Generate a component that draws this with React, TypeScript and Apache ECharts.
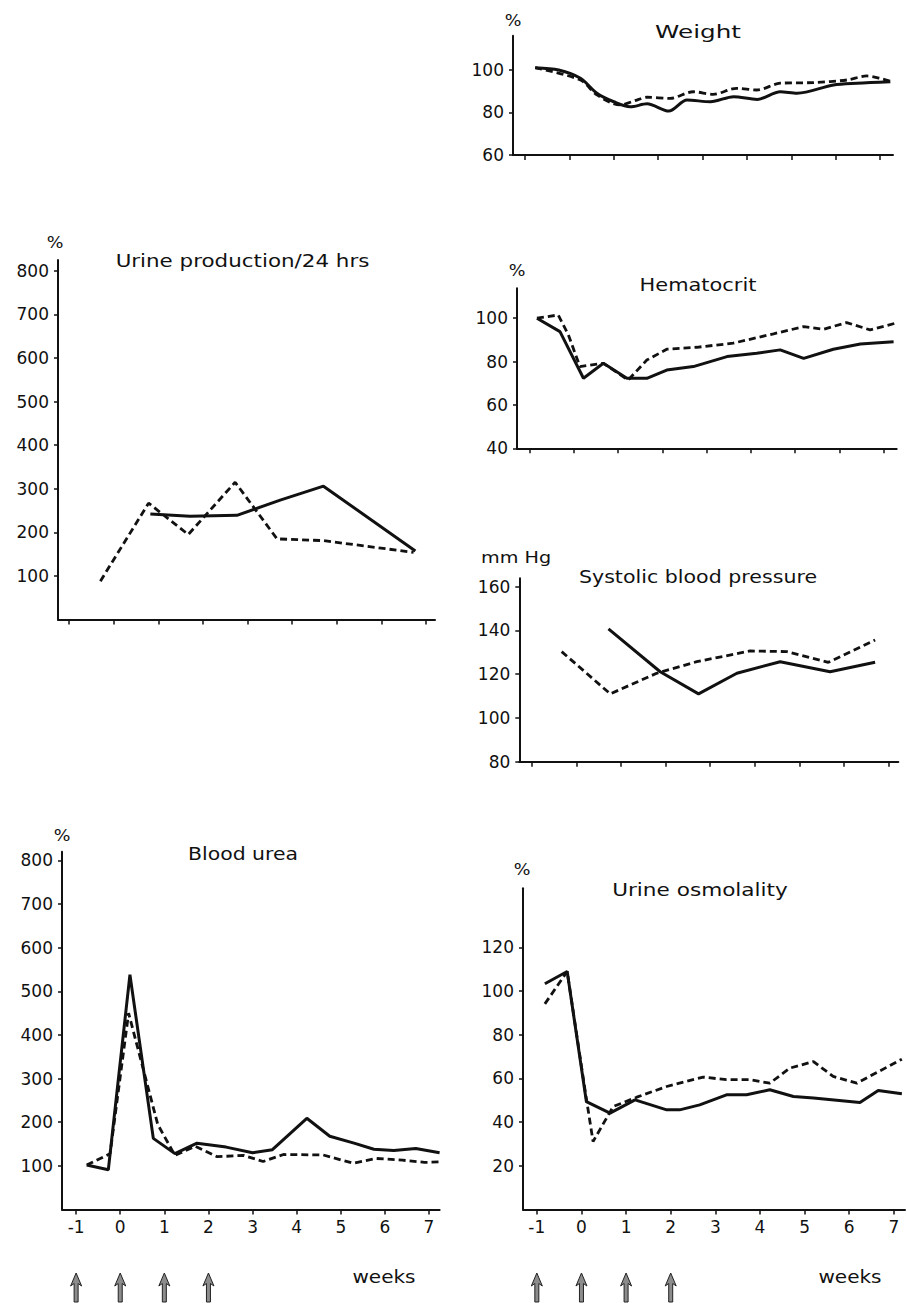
import React, { useEffect, useRef } from "react";
import * as echarts from "echarts";

// ---------- data (x = weeks, y = value) ----------
const weekTicks = [-1, 0, 1, 2, 3, 4, 5, 6, 7];
const arrowWeeks = [-1, 0, 1, 2];

const weightTicks = [60, 80, 100];
const hematocritTicks = [40, 60, 80, 100];
const systolicTicks = [80, 100, 120, 140, 160];
const osmolalityTicks = [20, 40, 60, 80, 100, 120];
const urineTicks = [100, 200, 300, 400, 500, 600, 700, 800];
const ureaTicks = [100, 200, 300, 400, 500, 600, 700, 800];

const weightSolid = [[-0.77, 101], [-0.24, 99.9], [0.25, 96], [0.62, 89], [1.0, 85], [1.37, 82.6], [1.75, 84], [2.24, 80.6], [2.65, 85.8], [3.18, 85], [3.7, 87.4], [4.23, 86.1], [4.75, 89.7], [5.13, 89], [5.95, 92.9], [6.48, 93.7], [7.23, 94.4]];
const weightDashed = [[-0.77, 101], [0.25, 95.2], [0.62, 88.2], [1.14, 83.5], [1.52, 85.8], [1.74, 87.1], [2.27, 86.6], [2.79, 89.7], [3.24, 88.5], [3.77, 91.3], [4.22, 90.5], [4.75, 93.7], [5.5, 94], [6.25, 95.2], [6.7, 97.1], [7.0, 96], [7.22, 94.7]];

const hematocritSolid = [[-0.83, 100], [-0.31, 93.8], [0.22, 72.3], [0.67, 79.2], [1.2, 72.3], [1.65, 72.3], [2.1, 76.1], [2.7, 77.7], [3.46, 82.3], [4.13, 83.8], [4.66, 85.4], [5.19, 81.5], [5.86, 85.7], [6.47, 88.1], [7.22, 89.2]];
const hematocritDashed = [[-0.83, 100], [-0.35, 101.5], [-0.12, 92.3], [0.14, 77.7], [0.67, 79.2], [1.23, 71.5], [1.65, 80.7], [2.1, 85.7], [2.78, 86.6], [3.6, 88.5], [4.51, 92.8], [5.19, 96.1], [5.64, 94.9], [6.16, 98], [6.69, 94.6], [7.26, 97.7]];

const systolicSolid = [[0.72, 140.7], [1.88, 121.1], [2.74, 111], [3.6, 120.4], [4.57, 125.7], [5.69, 121.1], [6.7, 125.4]];
const systolicDashed = [[-0.33, 130.3], [0.76, 111], [1.8, 120.4], [2.7, 125.7], [3.9, 130.6], [4.72, 130.3], [5.65, 125.4], [6.7, 135.6]];

const osmolalitySolid = [[-0.82, 103.3], [-0.32, 108.9], [0.11, 49.4], [0.64, 44.1], [1.2, 50.2], [1.91, 45.6], [2.2, 45.6], [2.65, 47.9], [3.25, 52.5], [3.7, 52.5], [4.22, 54.8], [4.75, 51.7], [5.2, 51], [6.24, 49], [6.65, 54.5], [7.18, 53]];
const osmolalityDashed = [[-0.82, 94.1], [-0.32, 108.9], [0.1, 52], [0.26, 31.1], [0.71, 47.1], [1.24, 51.4], [1.91, 56.3], [2.73, 60.6], [3.25, 59.4], [3.78, 59.4], [4.22, 57.8], [4.67, 64.7], [5.2, 67.7], [5.64, 60.9], [6.17, 57.8], [7.18, 68.8]];

const urineSolid = [[0.82, 242], [1.71, 237], [2.76, 239], [3.73, 274], [4.7, 306], [6.76, 157]];
const urineDashed = [[-0.3, 88], [0.78, 267], [1.67, 195], [2.72, 315], [3.66, 185], [4.7, 181], [6.72, 154]];

const ureaSolid = [[-0.76, 102], [-0.27, 91], [0.22, 538], [0.75, 163], [1.24, 128], [1.74, 152], [2.4, 143], [3.0, 130], [3.45, 137], [4.23, 209], [4.75, 168], [5.3, 152], [5.75, 138], [6.2, 135], [6.7, 140], [7.24, 130]];
const ureaDashed = [[-0.76, 102], [-0.23, 128], [0.19, 450], [0.85, 195], [1.24, 124], [1.7, 145], [2.2, 121], [2.8, 124], [3.24, 110], [3.7, 126], [4.6, 125], [5.28, 106], [5.8, 117], [6.4, 113], [6.9, 108], [7.24, 109]];

// ---------- layout ----------
const FONT = '"DejaVu Sans", sans-serif';
const INK = "#111";

type Panel = {
  left: number; top: number; right: number; bottom: number;
  xmin: number; xmax: number; ymin: number; ymax: number;
  yTicks: number[]; xLabels: boolean;
  solid: number[][]; dashed: number[][]; smooth: number;
};

const panels: Panel[] = [
  { left: 513, top: 35.7, right: 893, bottom: 155, xmin: -1.27, xmax: 7.29, ymin: 60, ymax: 116, yTicks: weightTicks, xLabels: false, solid: weightSolid, dashed: weightDashed, smooth: 0.3 },
  { left: 517, top: 288.3, right: 896.7, bottom: 448.3, xmin: -1.28, xmax: 7.29, ymin: 40, ymax: 113.8, yTicks: hematocritTicks, xLabels: false, solid: hematocritSolid, dashed: hematocritDashed, smooth: 0 },
  { left: 519.3, top: 578.3, right: 898.3, bottom: 761.7, xmin: -1.28, xmax: 7.22, ymin: 80, ymax: 163.8, yTicks: systolicTicks, xLabels: false, solid: systolicSolid, dashed: systolicDashed, smooth: 0 },
  { left: 523, top: 888.3, right: 905, bottom: 1209.5, xmin: -1.31, xmax: 7.25, ymin: 0, ymax: 147, yTicks: osmolalityTicks, xLabels: true, solid: osmolalitySolid, dashed: osmolalityDashed, smooth: 0 },
  { left: 58, top: 260, right: 435, bottom: 619.5, xmin: -1.25, xmax: 7.2, ymin: 0, ymax: 825, yTicks: urineTicks, xLabels: false, solid: urineSolid, dashed: urineDashed, smooth: 0 },
  { left: 62, top: 851.7, right: 439.6, bottom: 1209.5, xmin: -1.32, xmax: 7.24, ymin: 0, ymax: 820, yTicks: ureaTicks, xLabels: true, solid: ureaSolid, dashed: ureaDashed, smooth: 0 },
];

function txt(text: string, x: number, y: number, size: number, scaleX: number, align: string = "center") {
  return {
    type: "text", x, y, scaleX, silent: true,
    style: {
      text, font: `${size}px ${FONT}`, fill: INK,
      align, verticalAlign: "middle", textAlign: align, textVerticalAlign: "middle",
    },
  };
}

export default function App() {
  const ref = useRef<HTMLDivElement>(null);

  useEffect(() => {
    const chart = echarts.init(ref.current!, null, { renderer: "svg" });

    const grid = panels.map((p) => ({
      left: p.left, top: p.top, width: p.right - p.left, height: p.bottom - p.top,
      outerBoundsMode: "none", containLabel: false, show: false,
    }));

    const xAxis = panels.map((p, i) => ({
      type: "value", gridIndex: i, min: p.xmin, max: p.xmax,
      axisLine: { show: true, onZero: false, lineStyle: { color: INK, width: 2 } },
      axisTick: { show: true, customValues: weekTicks, length: 5, lineStyle: { color: INK, width: 1.5 } },
      axisLabel: { show: p.xLabels, customValues: weekTicks, fontSize: 17, fontFamily: FONT, color: INK, margin: 9 },
      splitLine: { show: false },
    }));

    const yAxis = panels.map((p, i) => ({
      type: "value", gridIndex: i, min: p.ymin, max: p.ymax,
      axisLine: { show: true, onZero: false, lineStyle: { color: INK, width: 2 } },
      axisTick: { show: true, customValues: p.yTicks, length: 4, lineStyle: { color: INK, width: 1.5 } },
      axisLabel: { show: true, customValues: p.yTicks, fontSize: 17, fontFamily: FONT, color: INK, margin: 9 },
      splitLine: { show: false },
    }));

    const series: any[] = [];
    panels.forEach((p, i) => {
      series.push({
        type: "line", xAxisIndex: i, yAxisIndex: i, data: p.dashed, symbol: "none",
        smooth: p.smooth, lineStyle: { color: INK, width: 2.8, type: [7, 4], cap: "butt" }, z: 2,
      });
      series.push({
        type: "line", xAxisIndex: i, yAxisIndex: i, data: p.solid, symbol: "none",
        smooth: p.smooth, lineStyle: { color: INK, width: 3, type: "solid" }, z: 3,
      });
    });

    chart.setOption({
      animation: false,
      backgroundColor: "#fff",
      grid, xAxis, yAxis, series,
    });

    const texts = [
      txt("%", 513, 20, 16, 1.1),
      txt("Weight", 698, 32, 17, 1.45),
      txt("%", 517, 270, 16, 1.1),
      txt("Hematocrit", 698, 285, 17, 1.23),
      txt("mm Hg", 481, 558, 16, 1.2, "left"),
      txt("Systolic blood pressure", 698, 577, 17, 1.21),
      txt("%", 522, 869, 16, 1.1),
      txt("Urine osmolality", 700, 890, 17, 1.27),
      txt("%", 55, 242, 16, 1.1),
      txt("Urine production/24 hrs", 242.5, 261, 17, 1.26),
      txt("%", 62, 835, 16, 1.1),
      txt("Blood urea", 243, 854, 17, 1.2),
      txt("weeks", 384, 1277, 17, 1.18),
      txt("weeks", 850, 1277, 17, 1.18),
    ];

    const arrowPts = [[0, 0], [5.5, 13], [2, 10.5], [2, 29], [-2, 29], [-2, 10.5], [-5.5, 13]];
    const arrows: any[] = [];
    [5, 3].forEach((gi) => {
      arrowWeeks.forEach((w) => {
        const px = chart.convertToPixel({ xAxisIndex: gi } as any, w) as unknown as number;
        arrows.push({
          type: "polygon", x: px, y: 1273, silent: true,
          shape: { points: arrowPts },
          style: { fill: "#8c8c8c", stroke: "#222", lineWidth: 1 },
        });
      });
    });

    chart.setOption({ graphic: { elements: [...texts, ...arrows] } });

    return () => chart.dispose();
  }, []);

  return (
    <div
      ref={ref}
      style={{ position: "absolute", left: 0, top: 0, width: 907, height: 1303, background: "#fff" }}
    />
  );
}
